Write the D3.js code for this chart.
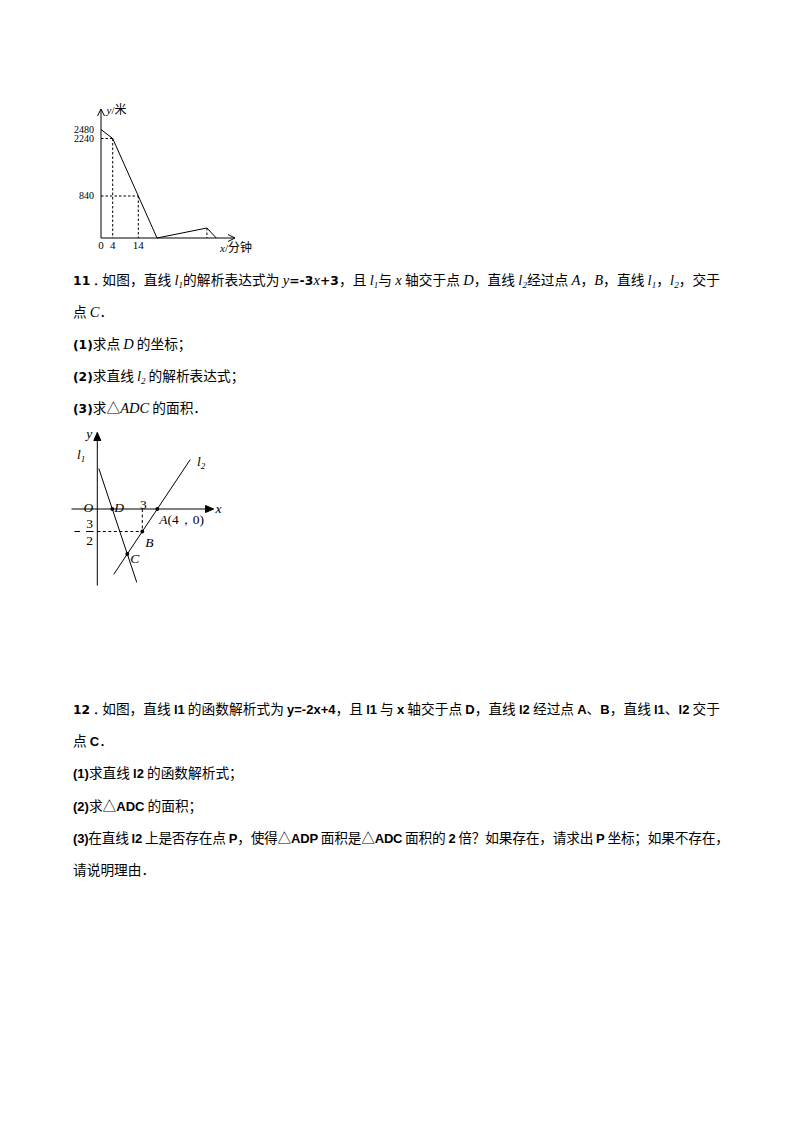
<!DOCTYPE html>
<html>
<head>
<meta charset="utf-8">
<script src="https://cdn.jsdelivr.net/npm/d3@7"></script>
<style>
  html, body { margin: 0; padding: 0; background: #fff; }
  svg { display: block; }
</style>
</head>
<body>
<div id="page"></div>
<script>
// --- chart 1: distance (米) against time (分钟) ---
const distTimes = [0, 4, 20, 36, 39];
const distValues = [2480, 2240, 0, 200, 0];
const distYTicks = [2480, 2240, 840];
const distXTicks = [0, 4, 14];
const distGuides = [[4, 2240], [14, 840]];   // dashed drop lines to both axes
const distPeakTime = 36;                      // dashed drop line to x axis only

// --- chart 2: lines l1, l2 ---
const l1Coef = [-3, 3];          // y = -3x + 3
const l1XRange = [0.1, 2.63];
const pointA = [4, 0];
const pointB = [3, -1.5];
const l2XRange = [1.1, 6.2];
const namedPoints = ["D", "A", "B", "C"];

// --- question texts: [style, text] segments ---
const q11Lines = [
  [["b", "11．"], ["cn", "如图，直线 "], ["it", "l"], ["sub", "1"], ["cn", "的解析表达式为 "], ["it", "y"], ["b", "=-3"], ["it", "x"], ["b", "+3"],
   ["cn", "，且 "], ["it", "l"], ["sub", "1"], ["cn", "与 "], ["it", "x"], ["cn", " 轴交于点 "], ["it", "D"], ["cn", "，直线 "], ["it", "l"], ["sub", "2"],
   ["cn", "经过点 "], ["it", "A"], ["cn", "，"], ["it", "B"], ["cn", "，直线 "], ["it", "l"], ["sub", "1"], ["cn", "，"], ["it", "l"], ["sub", "2"], ["cn", "，交于"]],
  [["cn", "点 "], ["it", "C"], ["cn", "．"]],
  [["b", "(1)"], ["cn", "求点 "], ["it", "D"], ["cn", " 的坐标；"]],
  [["b", "(2)"], ["cn", "求直线 "], ["it", "l"], ["sub", "2"], ["cn", " 的解析表达式；"]],
  [["b", "(3)"], ["cn", "求△"], ["it", "ADC"], ["cn", " 的面积．"]]
];
const q12Lines = [
  [["b", "12．"], ["cn", "如图，直线 "], ["bs", "l1"], ["cn", " 的函数解析式为 "], ["bs", "y=-2x+4"], ["cn", "，且 "], ["bs", "l1"], ["cn", " 与 "], ["bs", "x"],
   ["cn", " 轴交于点 "], ["bs", "D"], ["cn", "，直线 "], ["bs", "l2"], ["cn", " 经过点 "], ["bs", "A"], ["cn", "、"], ["bs", "B"], ["cn", "，直线 "], ["bs", "l1"],
   ["cn", "、"], ["bs", "l2"], ["cn", " 交于"]],
  [["cn", "点 "], ["bs", "C"], ["cn", "．"]],
  [["bs", "(1)"], ["cn", "求直线 "], ["bs", "l2"], ["cn", " 的函数解析式；"]],
  [["bs", "(2)"], ["cn", "求△"], ["bs", "ADC"], ["cn", " 的面积；"]],
  [["bs", "(3)"], ["cn", "在直线 "], ["bs", "l2"], ["cn", " 上是否存在点 "], ["bs", "P"], ["cn", "，使得△"], ["bs", "ADP"], ["cn", " 面积是△"], ["bs", "ADC"],
   ["cn", " 面积的 "], ["bs", "2"], ["cn", " 倍？如果存在，请求出 "], ["bs", "P"], ["cn", " 坐标；如果不存在，"]],
  [["cn", "请说明理由．"]]
];

const W = 794, H = 1123;
const svg = d3.select("#page").append("svg").attr("width", W).attr("height", H);
svg.append("rect").attr("width", W).attr("height", H).attr("fill", "#fff");

const fontFor = {
  cn: { family: "'Noto Sans CJK SC', sans-serif", size: 13.7, weight: 400, style: "normal" },
  b:  { family: "'DejaVu Sans', sans-serif", size: 12.3, weight: 700, style: "normal" },
  bs: { family: "'Liberation Sans Narrow', 'Liberation Sans', sans-serif", size: 13, weight: 700, style: "normal" },
  it: { family: "'Liberation Serif', serif", size: 14.5, weight: 400, style: "italic" },
  sub:{ family: "'Liberation Serif', serif", size: 9, weight: 400, style: "italic" }
};

function writeLine(x, y, segs, fitTo) {
  const t = svg.append("text").attr("x", x).attr("y", y).attr("fill", "#000");
  let shift = 0;
  segs.forEach(([k, s]) => {
    const f = fontFor[k];
    const want = k === "sub" ? 3 : 0;
    t.append("tspan")
      .attr("dy", want - shift)
      .style("font-family", f.family)
      .style("font-size", f.size + "px")
      .style("font-weight", f.weight)
      .style("font-style", f.style)
      .text(s);
    shift = want;
  });
  if (fitTo) t.attr("textLength", fitTo - x).attr("lengthAdjust", "spacing");
  return t;
}

q11Lines.forEach((segs, i) => writeLine(73, 285 + i * 32, segs, i === 0 ? 720 : null));
const q12Y = [714, 746, 778, 810.5, 842.5, 874.5];
const q12Fit = [720, null, null, null, 729, null];
q12Lines.forEach((segs, i) => writeLine(73, q12Y[i], segs, q12Fit[i]));

// ---------- chart 1 ----------
// the drawing is not to scale, so use piecewise-linear scales through the labelled ticks
const x1 = d3.scaleLinear().domain([0, 4, 14, 45]).range([101, 112.7, 138.3, 235]);
const y1 = d3.scaleLinear().domain([0, 840, 2240, 2480]).range([238, 196, 138.5, 129.5]);
const g1 = svg.append("g").attr("stroke", "#000").attr("fill", "none").attr("stroke-width", 1);

g1.append("line").attr("x1", x1(0)).attr("y1", y1(0)).attr("x2", x1(0)).attr("y2", 109);
g1.append("path").attr("d", `M${x1(0) - 3.5},${116} L${x1(0)},${109} L${x1(0) + 3.5},${116}`);
g1.append("line").attr("x1", x1(0)).attr("y1", y1(0)).attr("x2", 235).attr("y2", y1(0));
g1.append("path").attr("d", `M${228},${y1(0) - 3.5} L${235},${y1(0)} L${228},${y1(0) + 3.5}`);

const dash1 = g1.append("g").attr("stroke-dasharray", "2.5,2");
distGuides.forEach(([t, v]) => {
  dash1.append("line").attr("x1", x1(0)).attr("y1", y1(v)).attr("x2", x1(t)).attr("y2", y1(v));
  dash1.append("line").attr("x1", x1(t)).attr("y1", y1(v)).attr("x2", x1(t)).attr("y2", y1(0));
});
const peakIdx = distTimes.indexOf(distPeakTime);
dash1.append("line").attr("x1", x1(distPeakTime)).attr("y1", y1(distValues[peakIdx]))
  .attr("x2", x1(distPeakTime)).attr("y2", y1(0));

g1.append("path")
  .datum(distTimes.map((t, i) => [t, distValues[i]]))
  .attr("d", d3.line().x(d => x1(d[0])).y(d => y1(d[1])));

const serif = "'Liberation Serif', serif";
const lab1 = svg.append("g").style("font-family", serif).style("font-size", "10px").attr("fill", "#000");
distYTicks.forEach(v => {
  lab1.append("text").attr("x", 94).attr("y", y1(v) + 3.2).attr("text-anchor", "end").text(v);
});
distXTicks.forEach(t => {
  lab1.append("text").attr("x", x1(t)).attr("y", 249).attr("text-anchor", "middle").style("font-size", "11px").text(t);
});
const yl1 = lab1.append("text").attr("x", 106.5).attr("y", 114).style("font-size", "11px");
yl1.append("tspan").style("font-style", "italic").text("y");
yl1.append("tspan").text("/");
yl1.append("tspan").style("font-family", "'Noto Sans CJK SC', sans-serif").style("font-size", "12px").text("米");
const xl1 = lab1.append("text").attr("x", 220).attr("y", 252).style("font-size", "11px");
xl1.append("tspan").style("font-style", "italic").text("x");
xl1.append("tspan").text("/");
xl1.append("tspan").style("font-family", "'Noto Sans CJK SC', sans-serif").style("font-size", "12px").text("分钟");

// ---------- chart 2 ----------
const x2 = d3.scaleLinear().domain([0, 1]).range([97.3, 112.3]);
const y2 = d3.scaleLinear().domain([0, 1]).range([509, 494]);
const l2Slope = (pointA[1] - pointB[1]) / (pointA[0] - pointB[0]);
const l2Int = pointA[1] - l2Slope * pointA[0];
const f1 = x => l1Coef[0] * x + l1Coef[1];
const f2 = x => l2Slope * x + l2Int;
const cX = (l2Int - l1Coef[1]) / (l1Coef[0] - l2Slope);
const pts = {
  D: [-l1Coef[1] / l1Coef[0], 0],
  A: pointA,
  B: pointB,
  C: [cX, f1(cX)]
};

const g2 = svg.append("g").attr("stroke", "#000").attr("fill", "none").attr("stroke-width", 1);
const xTip = x2(7.75), yTip = y2(5.1);
g2.append("line").attr("x1", x2(-1.72)).attr("y1", y2(0)).attr("x2", xTip).attr("y2", y2(0));
g2.append("path").attr("d", `M${xTip - 8},${y2(0) - 3.5} L${xTip},${y2(0)} L${xTip - 8},${y2(0) + 3.5} Z`).attr("fill", "#000");
g2.append("line").attr("x1", x2(0)).attr("y1", y2(-5.1)).attr("x2", x2(0)).attr("y2", yTip);
g2.append("path").attr("d", `M${x2(0) - 3.5},${yTip + 8} L${x2(0)},${yTip} L${x2(0) + 3.5},${yTip + 8} Z`).attr("fill", "#000");

const lineGen = d3.line().x(d => x2(d[0])).y(d => y2(d[1]));
g2.append("path").attr("d", lineGen(l1XRange.map(x => [x, f1(x)])));
g2.append("path").attr("d", lineGen(l2XRange.map(x => [x, f2(x)])));

const dash2 = g2.append("g").attr("stroke-dasharray", "3,2.5");
dash2.append("line").attr("x1", x2(0)).attr("y1", y2(pointB[1])).attr("x2", x2(pointB[0])).attr("y2", y2(pointB[1]));
dash2.append("line").attr("x1", x2(pointB[0])).attr("y1", y2(0)).attr("x2", x2(pointB[0])).attr("y2", y2(pointB[1]));

svg.append("g").selectAll("circle").data(namedPoints).join("circle")
  .attr("cx", k => x2(pts[k][0])).attr("cy", k => y2(pts[k][1])).attr("r", 1.9).attr("fill", "#000");

const lab2 = svg.append("g").style("font-family", serif).style("font-size", "13.5px").attr("fill", "#000");
function lab(x, y, parts, anchor) {
  const t = lab2.append("text").attr("x", x).attr("y", y).attr("text-anchor", anchor || "start");
  parts.forEach(([s, it, sub]) => {
    const sp = t.append("tspan").text(s);
    if (it) sp.style("font-style", "italic");
    if (sub) sp.style("font-size", "9px").attr("dy", 3);
  });
}
lab(x2(0) - 9, y2(0) + 3, [["O", true]], "middle");
lab(x2(pts.D[0]) + 2, y2(0) + 2.5, [["D", true]]);
lab(x2(pointB[0]) + 1, y2(0) - 0.5, [["3"]], "middle");
lab(x2(pointA[0]) + 2, y2(0) + 15, [["A", true], ["(4，0)"]]);
lab(x2(pointB[0]) + 3, y2(pointB[1]) + 15, [["B", true]]);
lab(x2(pts.C[0]) + 3, y2(pts.C[1]) + 9, [["C", true]]);
lab(xTip + 2, y2(0) + 4, [["x", true]]);
lab(x2(0) - 11, yTip + 5, [["y", true]]);
lab(77, 459, [["l", true], ["1", true, true]]);
lab(197, 466, [["l", true], ["2", true, true]]);
// -3/2 fraction label
lab2.append("line").attr("x1", 74.5).attr("x2", 80).attr("y1", y2(pointB[1])).attr("y2", y2(pointB[1])).attr("stroke", "#000");
lab2.append("line").attr("x1", 86).attr("x2", 93.5).attr("y1", y2(pointB[1])).attr("y2", y2(pointB[1])).attr("stroke", "#000");
lab(89.5, y2(pointB[1]) - 4, [["3"]], "middle");
lab(89.5, y2(pointB[1]) + 13, [["2"]], "middle");
</script>
</body>
</html>
